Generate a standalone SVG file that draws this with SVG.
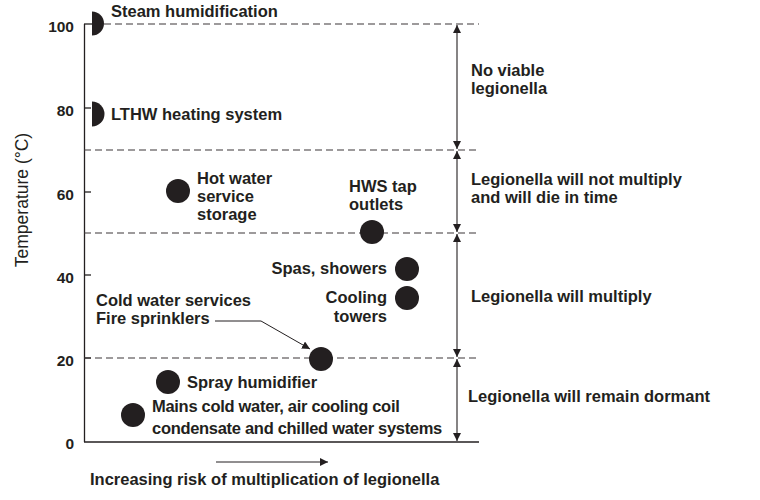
<svg xmlns="http://www.w3.org/2000/svg" width="760" height="500" viewBox="0 0 760 500">
<defs>
<style>
text{font-family:"Liberation Sans",Arial,sans-serif;font-weight:700;font-size:16.5px;fill:#231f20}
.num{font-size:15.5px;text-anchor:end}
.ylab{font-weight:400;font-size:17.5px}
.tight{letter-spacing:-0.3px}
.axis{stroke:#231f20;stroke-width:1.3;fill:none}
.dash{stroke:#3d3638;stroke-width:1.1;stroke-dasharray:7 4;fill:none}
.dot{fill:#231f20}
.range{stroke:#231f20;stroke-width:1.1;fill:none;marker-start:url(#ah);marker-end:url(#ah)}
.lead{stroke:#231f20;stroke-width:1;fill:none;marker-end:url(#ah)}
</style>
<marker id="ah" viewBox="0 0 10 10" refX="10" refY="5" markerWidth="8" markerHeight="8" markerUnits="userSpaceOnUse" orient="auto-start-reverse">
<path d="M0,0 L10,5 L0,10 Z" fill="#231f20"/>
</marker>
</defs>
<rect width="760" height="500" fill="#fff"/>

<g id="axes">
<line class="axis" x1="84.5" y1="24" x2="84.5" y2="442"/>
<line class="axis" x1="84" y1="442" x2="479" y2="442"/>
<line class="axis" x1="84" y1="24" x2="92" y2="24"/>
<line class="axis" x1="84" y1="108" x2="91" y2="108"/>
<line class="axis" x1="84" y1="192" x2="91" y2="192"/>
<line class="axis" x1="84" y1="275" x2="91" y2="275"/>
<line class="axis" x1="84" y1="358" x2="91" y2="358"/>
<text class="num" x="74" y="32">100</text>
<text class="num" x="74" y="116">80</text>
<text class="num" x="74" y="200">60</text>
<text class="num" x="74" y="283">40</text>
<text class="num" x="74" y="366">20</text>
<text class="num" x="74" y="449">0</text>
<text class="ylab" transform="translate(28,200) rotate(-90)" text-anchor="middle">Temperature (°C)</text>
<text x="90" y="485">Increasing risk of multiplication of legionella</text>
</g>

<g id="bands">
<line class="dash" x1="104" y1="24" x2="479" y2="24"/>
<line class="dash" x1="84" y1="150" x2="479" y2="150"/>
<line class="dash" x1="84" y1="233" x2="479" y2="233"/>
<line class="dash" x1="84" y1="358" x2="479" y2="358"/>
</g>

<g id="connectors">
<line class="range" x1="457" y1="25" x2="457" y2="149"/>
<line class="range" x1="457" y1="151" x2="457" y2="232"/>
<line class="range" x1="457" y1="234" x2="457" y2="357"/>
<line class="range" x1="457" y1="359" x2="457" y2="441"/>
<polyline class="lead" points="215,321 261,321 310,349"/>
<line class="lead" x1="216" y1="462" x2="328" y2="462"/>
</g>

<g id="steam">
<path class="dot" d="M92,11.5 A12,12 0 0 1 92,35.5 Z"/>
<text x="111" y="17">Steam humidification</text>
</g>
<g id="lthw">
<path class="dot" d="M92,101.5 A12.5,12.5 0 0 1 92,126.5 Z"/>
<text x="111" y="120">LTHW heating system</text>
</g>
<g id="hot-water">
<circle class="dot" cx="178" cy="191" r="12"/>
<text x="197" y="184">Hot water</text>
<text x="197" y="202">service</text>
<text x="197" y="220">storage</text>
</g>
<g id="hws-tap">
<circle class="dot" cx="372" cy="232" r="12"/>
<text x="349" y="192">HWS tap</text>
<text x="349" y="210">outlets</text>
</g>
<g id="spas">
<circle class="dot" cx="407" cy="269" r="12"/>
<text x="387" y="274" text-anchor="end">Spas, showers</text>
</g>
<g id="cooling">
<circle class="dot" cx="407" cy="298" r="12"/>
<text x="387" y="303" text-anchor="end">Cooling</text>
<text x="387" y="322" text-anchor="end">towers</text>
</g>
<g id="cold-water">
<circle class="dot" cx="321" cy="359" r="12"/>
<text x="96" y="306">Cold water services</text>
<text x="96" y="324">Fire sprinklers</text>
</g>
<g id="spray">
<circle class="dot" cx="168" cy="382" r="12"/>
<text x="187" y="388">Spray humidifier</text>
</g>
<g id="mains">
<circle class="dot" cx="133" cy="415" r="12"/>
<text class="tight" x="152" y="412">Mains cold water, air cooling coil</text>
<text class="tight" x="152" y="434">condensate and chilled water systems</text>
</g>

<g id="labels">
<text x="471" y="76">No viable</text>
<text x="471" y="94">legionella</text>
<text x="471" y="185">Legionella will not multiply</text>
<text x="471" y="203">and will die in time</text>
<text x="471" y="302">Legionella will multiply</text>
<text x="468" y="402">Legionella will remain dormant</text>
</g>
</svg>
